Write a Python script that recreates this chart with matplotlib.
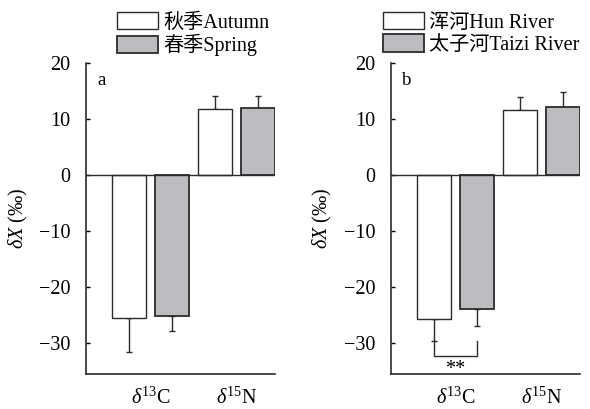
import matplotlib
matplotlib.use("Agg")
import matplotlib.pyplot as plt
import numpy as np

plt.rcParams['font.family'] = ['Liberation Serif', 'Noto Sans CJK SC', 'DejaVu Sans']
plt.rcParams['mathtext.fontset'] = 'custom'
plt.rcParams['mathtext.rm'] = 'Liberation Serif'
plt.rcParams['mathtext.it'] = 'Liberation Serif:italic'
plt.rcParams['axes.unicode_minus'] = True

categories = [r'$\mathit{\delta}^{\mathrm{13}}$C', r'$\mathit{\delta}^{\mathrm{15}}$N']

# Panel a: seasons
season_labels = ['秋季Autumn', '春季Spring']
autumn_mean = [-25.5, 11.8]
autumn_err = [6.1, 2.3]
spring_mean = [-25.1, 12.0]
spring_err = [2.8, 2.1]

# Panel b: rivers
river_labels = ['浑河Hun River', '太子河Taizi River']
hun_mean = [-25.6, 11.7]
hun_err = [4.0, 2.2]
taizi_mean = [-23.9, 12.1]
taizi_err = [3.1, 2.7]

panel_letters = ['a', 'b']
yticks = [-30, -20, -10, 0, 10, 20]

W, H = 590, 409
fig = plt.figure(figsize=(W / 100, H / 100), dpi=100)

gray = '#bcbdc0'
edge = '#2b2b2b'
FS = 14.5

def make_panel(left_px, means1, errs1, means2, errs2, labels, letter, leg_x_px):
    ax = fig.add_axes([left_px / W, 1 - 374 / H, 189 / W, (374 - 63) / H])
    n = len(means1)
    pos1 = np.arange(n) * 2.0
    pos2 = pos1 + 1.0
    b1 = ax.bar(pos1, means1, width=0.8, color='white', edgecolor=edge, linewidth=1.0,
                label=labels[0], zorder=2)
    b2 = ax.bar(pos2, means2, width=0.8, color=gray, edgecolor=edge, linewidth=1.3,
                label=labels[1], zorder=2)
    # one-sided error bars (away from zero)
    for p, m, e in zip(pos1, means1, errs1):
        ax.errorbar(p, m, yerr=[[e if m < 0 else 0], [e if m > 0 else 0]], fmt='none',
                    ecolor=edge, elinewidth=1.0, capsize=2.5, capthick=1.0, zorder=1)
    for p, m, e in zip(pos2, means2, errs2):
        ax.errorbar(p, m, yerr=[[e if m < 0 else 0], [e if m > 0 else 0]], fmt='none',
                    ecolor=edge, elinewidth=1.0, capsize=2.5, capthick=1.0, zorder=1)
    ax.axhline(0, color=edge, lw=1.0, zorder=3)
    ax.set_xlim(-1.0, 3.4)
    ax.set_ylim(-35.5, 20)
    ax.set_yticks(yticks)
    ax.set_yticklabels([('\u2212' + str(-t)) if t < 0 else str(t) for t in yticks], fontsize=FS)
    ax.set_xticks((pos1 + pos2) / 2)
    ax.set_xticklabels(categories, fontsize=FS)
    ax.tick_params(axis='x', length=0, pad=10)
    ax.tick_params(axis='y', direction='in', length=3, width=1.0, pad=11)
    for s in ['top', 'right']:
        ax.spines[s].set_visible(False)
    for s in ['left', 'bottom']:
        ax.spines[s].set_linewidth(1.2)
        ax.spines[s].set_color(edge)
    ax.set_ylabel(r'$\mathit{\delta X}$ (‰)', fontsize=FS, labelpad=7)
    ax.text(0.06, 0.945, letter, transform=ax.transAxes, fontsize=FS - 1, va='center', ha='left')
    fig.legend(handles=[b1, b2], labels=labels, loc='upper left',
               bbox_to_anchor=(leg_x_px / W, 1 - 12 / H), frameon=False, fontsize=FS,
               handlelength=2.05, handleheight=0.95, handletextpad=0.25, labelspacing=0.08,
               borderpad=0, borderaxespad=0)
    return ax, pos1, pos2

axa, _, _ = make_panel(86, autumn_mean, autumn_err, spring_mean, spring_err,
                       season_labels, panel_letters[0], 117)
axb, p1, p2 = make_panel(391, hun_mean, hun_err, taizi_mean, taizi_err,
                         river_labels, panel_letters[1], 383)

# significance bracket for delta13C between rivers
x1, x2 = p1[0], p2[0]
ytop, ybot = -29.6, -32.3
axb.plot([x1, x1, x2, x2], [ytop, ybot, ybot, ytop], color=edge, lw=1.0, zorder=3)
axb.text((x1 + x2) / 2, -34.7, '**', ha='center', va='center', fontsize=FS)

fig.savefig('out.png', dpi=100)
